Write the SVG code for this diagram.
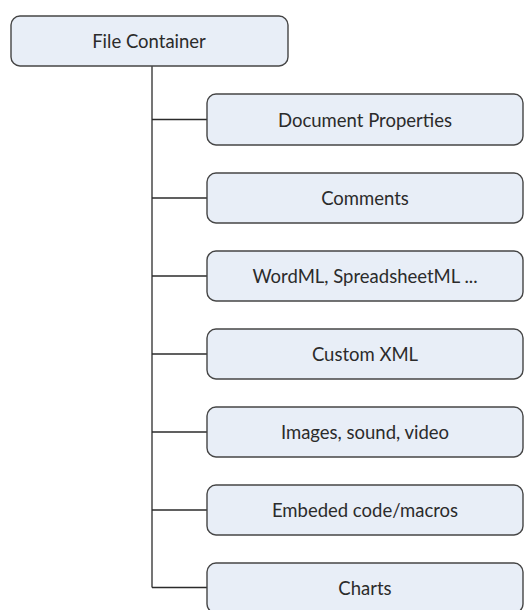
<svg xmlns="http://www.w3.org/2000/svg" width="524" height="610" viewBox="0 0 524 610">
<style>
.box{fill:#e8eef7;stroke:#454545;stroke-width:1.4}
.lbl{font-family:Lato,"Open Sans","Liberation Sans",sans-serif;font-size:18.5px;fill:#2b2b2b;text-anchor:middle;dominant-baseline:central}
.con{stroke:#2b2b2b;stroke-width:1.3;fill:none}
</style>
<rect width="524" height="610" fill="#ffffff"/>
<g id="connectors">
<path class="con" d="M152 66 V587.5"/>
<path class="con" d="M152 119.5 H207"/>
<path class="con" d="M152 198 H207"/>
<path class="con" d="M152 276 H207"/>
<path class="con" d="M152 354 H207"/>
<path class="con" d="M152 432 H207"/>
<path class="con" d="M152 510 H207"/>
<path class="con" d="M152 587.5 H207"/>
</g>
<g id="file-container"><rect class="box" x="11" y="16" width="277" height="50" rx="9"/><text class="lbl" x="149" y="41">File Container</text></g>
<g id="document-properties"><rect class="box" x="207" y="94" width="316" height="51" rx="9"/><text class="lbl" x="365" y="119.5">Document Properties</text></g>
<g id="comments"><rect class="box" x="207" y="173" width="316" height="50" rx="9"/><text class="lbl" x="365" y="198">Comments</text></g>
<g id="wordml"><rect class="box" x="207" y="251" width="316" height="50" rx="9"/><text class="lbl" x="365" y="276">WordML, SpreadsheetML ...</text></g>
<g id="custom-xml"><rect class="box" x="207" y="329" width="316" height="50" rx="9"/><text class="lbl" x="365" y="354">Custom XML</text></g>
<g id="images"><rect class="box" x="207" y="407" width="316" height="50" rx="9"/><text class="lbl" x="365" y="432">Images, sound, video</text></g>
<g id="embeded-code"><rect class="box" x="207" y="485" width="316" height="50" rx="9"/><text class="lbl" x="365" y="510">Embeded code/macros</text></g>
<g id="charts"><rect class="box" x="207" y="563" width="316" height="50" rx="9"/><text class="lbl" x="365" y="588">Charts</text></g>
</svg>
